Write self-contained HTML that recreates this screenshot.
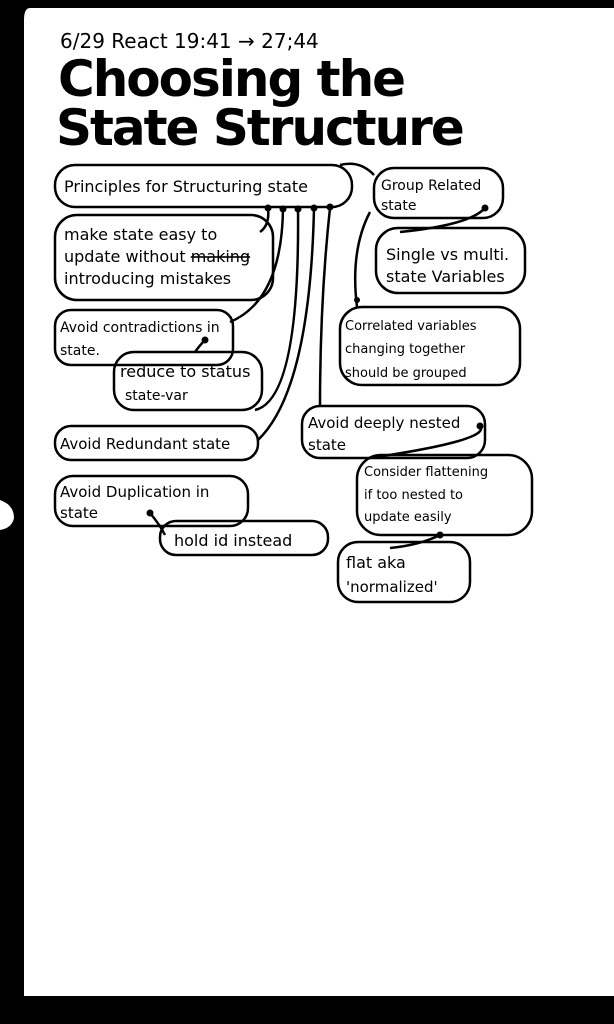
<!DOCTYPE html>
<html><head><meta charset="utf-8"><style>
html,body{margin:0;padding:0;background:#000;}
svg{display:block}
text{font-family:"DejaVu Sans","Liberation Sans",sans-serif;fill:#000}
</style></head><body>
<svg width="614" height="1024" viewBox="0 0 614 1024" xmlns="http://www.w3.org/2000/svg">
<rect x="0" y="0" width="614" height="1024" fill="#000"/>
<path d="M30 8 H614 V996 H24 V20 Q24 8 30 8 Z" fill="#fff"/>
<path d="M0 500 Q14 505 14 518 Q12 528 0 530 Z" fill="#fff"/>
<text x="60" y="48" font-size="20">6/29  React  19:41 → 27;44</text>
<text x="58" y="96" font-size="50" font-weight="bold" letter-spacing="-2">Choosing the</text>
<text x="56" y="145" font-size="50" font-weight="bold" letter-spacing="-2">State Structure</text>
<g fill="none" stroke="#000" stroke-width="2.5">
<rect x="55" y="165" width="297" height="42" rx="20"/>
<rect x="374" y="168" width="129" height="50" rx="20"/>
<rect x="55" y="215" width="218" height="85" rx="22"/>
<rect x="376" y="228" width="149" height="65" rx="22"/>
<rect x="55" y="310" width="178" height="55" rx="16"/>
<rect x="114" y="352" width="148" height="58" rx="20"/>
<rect x="340" y="307" width="180" height="78" rx="22"/>
<rect x="55" y="426" width="203" height="34" rx="16"/>
<rect x="302" y="406" width="183" height="52" rx="18"/>
<rect x="55" y="476" width="193" height="50" rx="18"/>
<rect x="160" y="521" width="168" height="34" rx="16"/>
<rect x="357" y="455" width="175" height="80" rx="24"/>
<rect x="338" y="542" width="132" height="60" rx="20"/>
<path d="M268 208 Q270 225 260 232"/>
<path d="M283 208 Q282 300 230 322"/>
<path d="M298 208 Q300 400 255 410"/>
<path d="M314 208 Q310 390 258 440"/>
<path d="M330 208 Q320 300 320 406"/>
<path d="M340 165 Q360 160 374 175"/>
<path d="M485 208 Q470 225 400 232"/>
<path d="M370 212 Q350 250 357 307"/>
<path d="M205 340 Q200 345 195 352"/>
<path d="M480 426 Q492 440 370 458"/>
<path d="M150 513 Q160 525 165 535"/>
<path d="M440 535 Q420 545 390 548"/>
</g>
<g fill="#000">
<circle cx="268" cy="208" r="3.5"/><circle cx="283" cy="209" r="3.5"/><circle cx="298" cy="209" r="3.5"/><circle cx="314" cy="208" r="3.5"/><circle cx="330" cy="207" r="3.5"/>
<circle cx="485" cy="208" r="3.5"/><circle cx="205" cy="340" r="3.5"/><circle cx="480" cy="426" r="3.5"/><circle cx="150" cy="513" r="3.5"/><circle cx="440" cy="535" r="3.5"/><circle cx="357" cy="300" r="3"/>
</g>
<g font-size="16">
<text x="64" y="192">Principles for Structuring state</text>
<text x="381" y="190" font-size="14">Group Related</text><text x="381" y="210" font-size="14">state</text>
<text x="64" y="240">make state easy to</text><text x="64" y="262">update without <tspan text-decoration="line-through">making</tspan></text><text x="64" y="284">introducing mistakes</text>
<text x="386" y="260">Single vs multi.</text><text x="386" y="282">state Variables</text>
<text x="60" y="332" font-size="14">Avoid contradictions in</text><text x="60" y="355" font-size="14">state.</text>
<text x="120" y="377">reduce to status</text><text x="125" y="400" font-size="14">state-var</text>
<text x="345" y="330" font-size="13">Correlated variables</text><text x="345" y="353" font-size="13">changing together</text><text x="345" y="377" font-size="13">should be grouped</text>
<text x="60" y="449" font-size="15">Avoid Redundant state</text>
<text x="308" y="428" font-size="15">Avoid deeply nested</text><text x="308" y="450" font-size="15">state</text>
<text x="60" y="497" font-size="15">Avoid Duplication in</text><text x="60" y="518" font-size="15">state</text>
<text x="174" y="546">hold id instead</text>
<text x="364" y="476" font-size="13">Consider flattening</text><text x="364" y="499" font-size="13">if too nested to</text><text x="364" y="521" font-size="13">update easily</text>
<text x="346" y="568">flat aka</text><text x="346" y="592" font-size="15">'normalized'</text>
</g>
</svg>
</body></html>
